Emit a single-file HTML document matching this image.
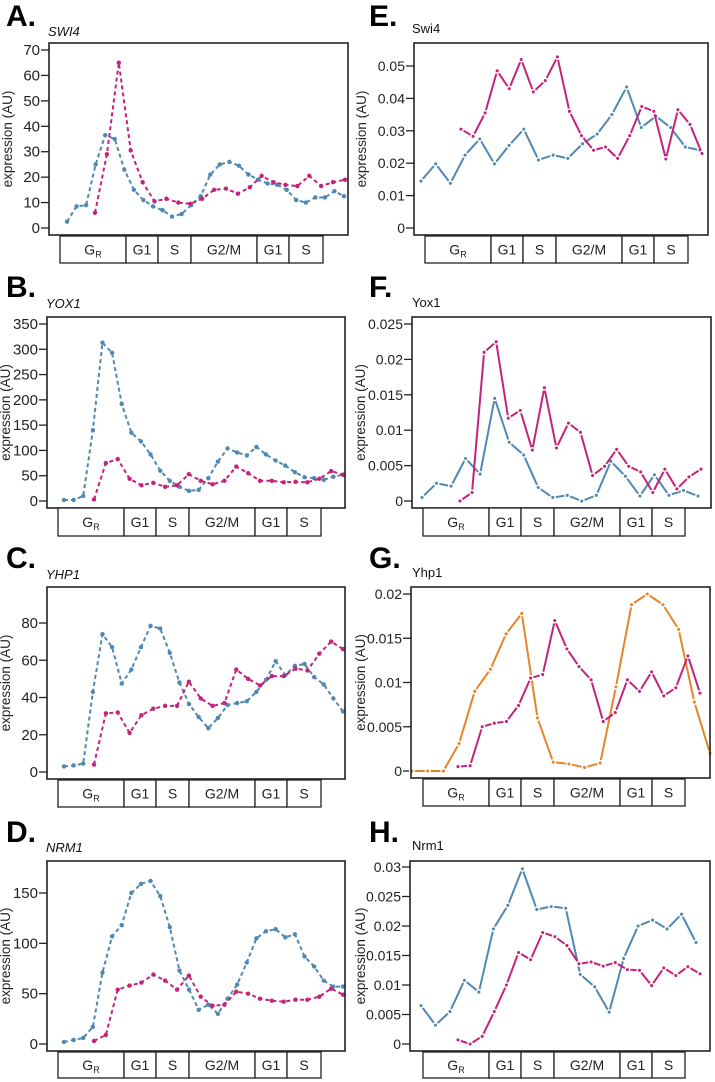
<!DOCTYPE html>
<html><head><meta charset="utf-8">
<style>
html,body{margin:0;padding:0;background:#fff;}
svg{display:block;font-family:"Liberation Sans",Arial,sans-serif;}
</style></head>
<body>
<svg id="fig" width="715" height="1082" viewBox="0 0 715 1082"></svg>
<script>
// ---- data arrays ----
const aBlue=[2.5,8.5,9,25,36.5,35,23,15,11,8.5,7,4.5,5.5,9,12.5,21,25,26,24.5,21,19,17.5,17,15,11,10,12,12,14.5,12.5];
const aPink=[6,29,65,30.5,18,10.5,11.5,10,9.5,11.5,15,15.5,13.5,16,20.5,18,17,16.5,20.5,16.5,18,19];
const bBlue=[2,2,10,140,313,293,192,135,118,92,60,40,28,20,22,45,78,104,96,90,107,92,80,70,57,47,45,42,48,52];
const bPink=[3,75,83,44,31,36,28,31,53,40,33,40,68,55,40,40,37,38,37,44,59,52];
const cBlue=[3,3.5,4.5,43,74,67,47.5,55,67,78.5,77,64,48,36.5,29.5,23.5,29,36,37,38,43,49.5,59.5,52,57,58,51,47,39.5,32.5];
const cPink=[4,31.5,32,21,30.5,34,35.5,35.5,48.5,39.5,35.5,37,55,50,46.5,51.5,51.5,55.5,54.5,63.5,70,66];
const dBlue=[2,4,6,17,71,107,118,150,159,162,147,116,73,54,34,39,30,45,59,81,105,112,114,106,109,87,77,63,57,57];
const dPink=[3,9,54,58,61,69,63,54,68,47,38,39,52,50,45,43,42,44,44,47,55,49];
const eBlue=[.0145,.0198,.0138,.0225,.0275,.0198,.0255,.0305,.021,.0225,.0215,.026,.029,.035,.0435,.031,.0345,.031,.025,.024];
const ePink=[.0305,.0283,.0355,.0485,.043,.052,.042,.0455,.0528,.036,.0285,.024,.025,.0215,.0285,.0375,.036,.0213,.0365,.032,.023];
const fBlue=[.0005,.0025,.0021,.006,.0038,.0145,.0083,.0065,.0019,.0005,.0008,0,.0008,.0056,.0035,.0007,.0037,.0008,.0015,.0007];
const fPink=[0,.0012,.021,.0225,.0117,.0128,.0072,.016,.0075,.011,.0097,.0036,.0049,.0073,.0049,.0041,.0012,.0045,.0017,.0034,.0045];
const gOrange=[0,0,0,.0031,.009,.0115,.0155,.0178,.006,.001,.0008,.0004,.0009,.0095,.0188,.02,.0188,.016,.0078,.002];
const gPink=[.0005,.0006,.005,.0054,.0056,.0074,.0105,.0109,.017,.0138,.0118,.0103,.0056,.0066,.0103,.009,.0112,.0085,.0094,.013,.0088];
const hBlue=[.0065,.0032,.0055,.0108,.0088,.0195,.0235,.0297,.0228,.0233,.023,.0118,.0097,.0054,.0145,.02,.021,.0195,.022,.0172];
const hPink=[.0007,0,.0013,.0055,.01,.0155,.0143,.0189,.0182,.0167,.0136,.0139,.0132,.0138,.0126,.0125,.0099,.0129,.0116,.0131,.0119];
const ticksA=[0,10,20,30,40,50,60,70];
const ticksB=[0,50,100,150,200,250,300,350];
const ticksC=[0,20,40,60,80];
const ticksD=[0,50,100,150];
const ticksE=[0,0.01,0.02,0.03,0.04,0.05];
const ticksF=[0,0.005,0.01,0.015,0.02,0.025];
const ticksG=[0,0.005,0.01,0.015,0.02];
const ticksH=[0,0.005,0.01,0.015,0.02,0.025,0.03];
const phases=["GR","G1","S","G2/M","G1","S"];

const BLUE="#4f88b3",PINK="#c4237c",ORANGE="#e5852a";
const NS="http://www.w3.org/2000/svg";
const svg=document.getElementById('fig');
function el(tag,attrs,parent){const e=document.createElementNS(NS,tag);for(const k in attrs)e.setAttribute(k,attrs[k]);(parent||svg).appendChild(e);return e;}

function panel(p){
  const g=el('g',{});
  
  
  const L=el('text',{x:p.lx,y:p.ly,'font-size':30,'font-weight':'bold',fill:'#000'},g);
  L.textContent=p.letter+'.';
  
  
  const T=el('text',{x:p.tx,y:p.ty,'font-size':13,'font-style':p.italic?'italic':'normal',fill:'#111'},g);
  T.textContent=p.title;
  
  
  const [x0,y0,x1,y1]=p.box;
  const yS=v=>p.y0px+(p.y1px-p.y0px)*(v/p.v1);
  // y axis ticks
  const ax=el('g',{},g);
  
  
  p.ticks.forEach(t=>{
    const y=yS(t);
    el('line',{x1:x0-8,x2:x0,y1:y,y2:y,stroke:'#222','stroke-width':1.3},ax);
    const tt=el('text',{x:x0-9,y:y+5,'font-size':p.right?14:15,'text-anchor':'end',fill:'#222'},ax);
    tt.textContent=String(t);
    
    
  });
  const cy=(y0+y1)/2;
  const yt=el('text',{x:p.atx,y:cy,'font-size':13.5,'text-anchor':'middle',fill:'#222',transform:`rotate(-90 ${p.atx} ${cy})`},g);
  yt.textContent='expression (AU)';
  
  
  // series
  p.series.forEach(s=>{
    const sg=el('g',{},g);
    
    
    const n=s.vals.length;
    const xs=i=>x0+s.xa+(s.xb-s.xa)*i/(n-1);
    const pts=s.vals.map((v,i)=>[xs(i),yS(v)]);
    el('polyline',{points:pts.map(q=>q.join(',')).join(' '),fill:'none',stroke:s.c,'stroke-width':2,'stroke-dasharray':s.dash?'4 3':'none','stroke-linejoin':'round'},sg);
    pts.forEach(q=>{
      const d=el('circle',{cx:q[0],cy:q[1],r:s.dash?2.2:2.3,fill:s.c,stroke:s.dash?'none':'#fff','stroke-width':s.dash?0:1.5},sg);
      
      
    });
  });
  // box
  const bx=el('rect',{x:x0,y:y0,width:x1-x0,height:y1-y0,fill:'none',stroke:'#222','stroke-width':1.6},g);
  
  
  // phase bar
  const pb=el('g',{},g);
  
  
  const sx=p.bar, [by0,by1]=p.barY;
  for(let i=0;i<phases.length;i++){
    const r=el('rect',{x:sx[i],y:by0,width:sx[i+1]-sx[i],height:by1-by0,fill:'#fff',stroke:'#222','stroke-width':1.3},pb);
    
    
    const t=el('text',{x:(sx[i]+sx[i+1])/2,y:(by0+by1)/2+5,'font-size':14,'text-anchor':'middle',fill:'#222'},pb);
    if(phases[i]==="GR"){t.innerHTML='G<tspan font-size="9" dy="3">R</tspan>';}
    else t.textContent=phases[i];
    
    
  }
}
const LB=[58,124,156,189,255,287,321], RB=[423,489,521,554,620,652,685];
panel({letter:'A',lx:6,ly:26,title:'SWI4',tx:48,ty:36,italic:true,box:[49,43,348,235],y0px:228,y1px:50,v1:70,ticks:ticksA,atx:12,
  bar:[60,126,158,191,257,289,323],barY:[236,263],
  series:[{name:'series-blue-a',vals:aBlue,c:BLUE,dash:true,xa:18,xb:295},{name:'series-pink-a',vals:aPink,c:PINK,dash:true,xa:46,xb:296}]});
panel({letter:'B',lx:6,ly:297,title:'YOX1',tx:46,ty:308,italic:true,box:[47,317,345,508],y0px:501,y1px:324,v1:350,ticks:ticksB,atx:10,
  bar:LB,barY:[508,536],
  series:[{name:'series-blue-b',vals:bBlue,c:BLUE,dash:true,xa:17,xb:296},{name:'series-pink-b',vals:bPink,c:PINK,dash:true,xa:47,xb:296}]});
panel({letter:'C',lx:6,ly:568,title:'YHP1',tx:46,ty:579,italic:true,box:[47,587,345,779],y0px:772,y1px:623,v1:80,ticks:ticksC,atx:10,
  bar:LB,barY:[780,807],
  series:[{name:'series-blue-c',vals:cBlue,c:BLUE,dash:true,xa:17,xb:296},{name:'series-pink-c',vals:cPink,c:PINK,dash:true,xa:47,xb:296}]});
panel({letter:'D',lx:6,ly:842,title:'NRM1',tx:46,ty:852,italic:true,box:[47,861,345,1051],y0px:1044,y1px:893,v1:150,ticks:ticksD,atx:10,
  bar:LB,barY:[1052,1078],
  series:[{name:'series-blue-d',vals:dBlue,c:BLUE,dash:true,xa:17,xb:296},{name:'series-pink-d',vals:dPink,c:PINK,dash:true,xa:47,xb:296}]});
panel({letter:'E',lx:369,ly:26,title:'Swi4',tx:412,ty:33,italic:false,right:true,box:[414,43,708,235],y0px:228,y1px:66,v1:0.05,ticks:ticksE,atx:366,
  bar:[425,491,523,556,622,654,688],barY:[236,263],
  series:[{name:'series-blue-e',vals:eBlue,c:BLUE,dash:false,xa:7,xb:286},{name:'series-pink-e',vals:ePink,c:PINK,dash:false,xa:47,xb:288}]});
panel({letter:'F',lx:369,ly:297,title:'Yox1',tx:412,ty:307,italic:false,right:true,box:[412,317,711,508],y0px:501,y1px:324,v1:0.025,ticks:ticksF,atx:365,
  bar:RB,barY:[508,536],
  series:[{name:'series-blue-f',vals:fBlue,c:BLUE,dash:false,xa:10,xb:286},{name:'series-pink-f',vals:fPink,c:PINK,dash:false,xa:48,xb:289}]});
panel({letter:'G',lx:369,ly:568,title:'Yhp1',tx:412,ty:577,italic:false,right:true,box:[411,587,710,778],y0px:771,y1px:594,v1:0.02,ticks:ticksG,atx:365,
  bar:RB,barY:[779,806],
  series:[{name:'series-orange-g',vals:gOrange,c:ORANGE,dash:false,xa:1,xb:299},{name:'series-pink-g',vals:gPink,c:PINK,dash:false,xa:47,xb:289}]});
panel({letter:'H',lx:369,ly:842,title:'Nrm1',tx:412,ty:850,italic:false,right:true,box:[410,861,710,1051],y0px:1044,y1px:867,v1:0.03,ticks:ticksH,atx:365,
  bar:RB,barY:[1052,1078],
  series:[{name:'series-blue-h',vals:hBlue,c:BLUE,dash:false,xa:11,xb:286},{name:'series-pink-h',vals:hPink,c:PINK,dash:false,xa:48,xb:290}]});
</script>
</body></html>
